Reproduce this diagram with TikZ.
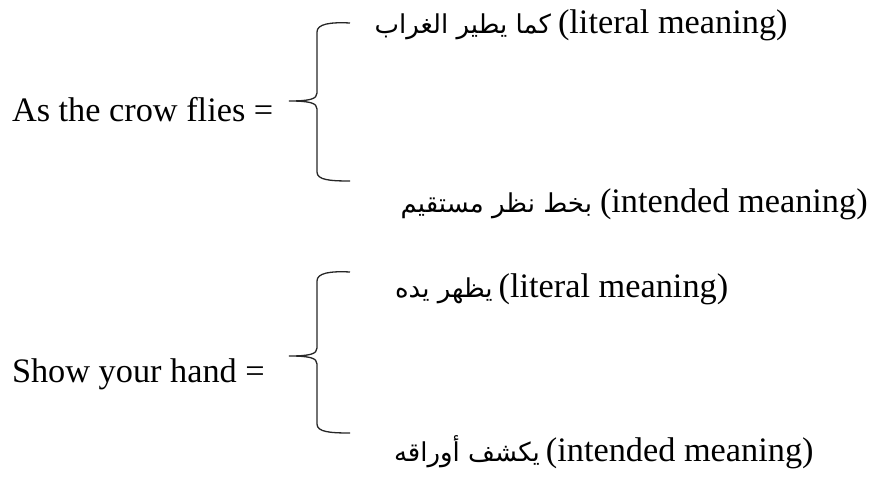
\documentclass[tikz,border=0pt]{standalone}
\usepackage{fontspec}
\setmainfont{Liberation Serif}
\newfontfamily\arabicfont[Script=Arabic]{DejaVu Sans}
\TeXXeTstate=1
\begin{document}
\begin{tikzpicture}[x=1bp,y=-1bp,
  txt/.style={inner sep=0pt,outer sep=0pt,font=\fontsize{34.3bp}{40bp}\selectfont},
  ar/.style={inner sep=0pt,outer sep=0pt,font=\fontsize{26bp}{32bp}\selectfont\arabicfont},
  bracestroke/.style={line width=1.3bp,draw=black!85}]
\useasboundingbox (0,0) rectangle (870,478);
% left labels
\node[txt,anchor=base west] (crow) at (12,122) {As the crow flies =};
\node[txt,anchor=base west] (hand) at (12,382) {Show your hand =};
% brace 1
\draw[bracestroke] (350,23) .. controls (330,22) and (317,24) .. (317,32) -- (317,93)
  .. controls (317,99) and (310,101) .. (289,101)
  .. controls (310,101) and (317,103) .. (317,109) -- (317,172)
  .. controls (317,180) and (330,181) .. (350,181);
% brace 2
\draw[bracestroke] (350,272) .. controls (330,271) and (317,273) .. (317,281) -- (317,348)
  .. controls (317,354) and (310,356) .. (289,356)
  .. controls (310,356) and (317,358) .. (317,364) -- (317,424)
  .. controls (317,432) and (330,433) .. (350,433);
% line 1
\node[ar,anchor=base east] (a1) at (551,34) {\beginR كما يطير الغراب\endR};
\node[txt,anchor=base west] (e1) at (558,34) {(literal meaning)};
% line 2
\node[ar,anchor=base east] (a2) at (592,213) {\beginR بخط نظر مستقيم\endR};
\node[txt,anchor=base west] (e2) at (600,213) {(intended meaning)};
% line 3
\node[ar,anchor=base west] (a3) at (395,298) {\beginR يظهر يده\endR};
\node[txt,anchor=base west] (e3) at ([xshift=6bp]a3.base east) {(literal meaning)};
% line 4
\node[ar,anchor=base west] (a4) at (394,461) {\beginR يكشف أوراقه\endR};
\node[txt,anchor=base west] (e4) at ([xshift=6bp]a4.base east) {(intended meaning)};
\end{tikzpicture}
\end{document}
